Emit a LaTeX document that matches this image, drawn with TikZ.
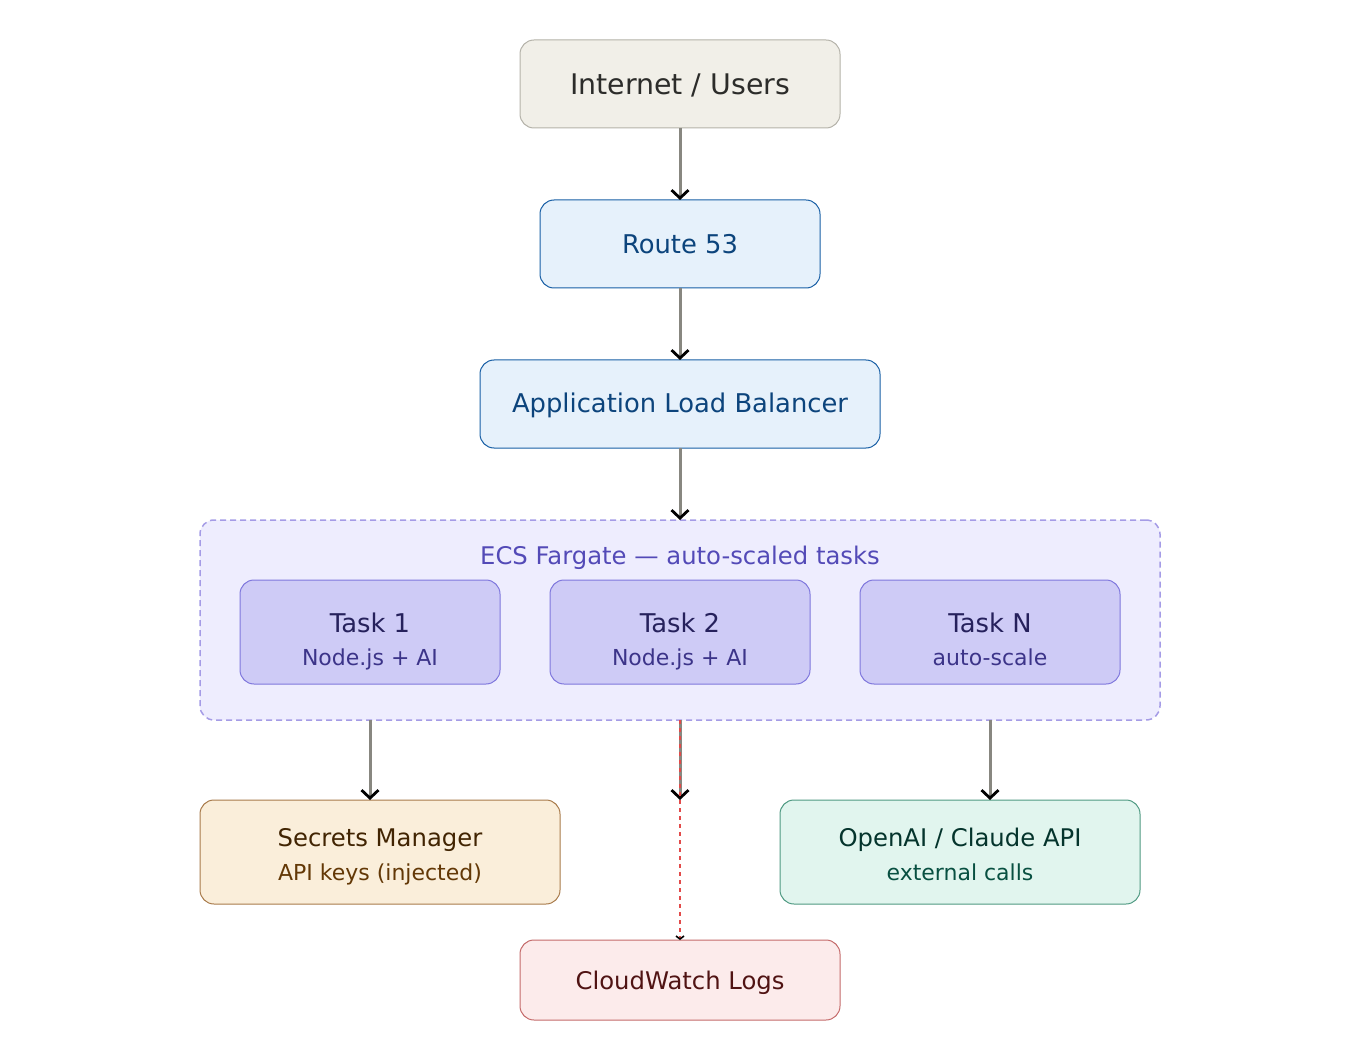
\documentclass[tikz,border=0pt]{standalone}
\usepackage{fontspec}
\setmainfont{DejaVu Sans}
\usepackage{xcolor}
\usetikzlibrary{arrows.meta,positioning,calc}

\definecolor{inetfill}{HTML}{F1EFE8}
\definecolor{inetdraw}{HTML}{B4B2A9}
\definecolor{inettext}{HTML}{2C2C2A}
\definecolor{awsfill}{HTML}{E6F1FB}
\definecolor{awsdraw}{HTML}{185FA5}
\definecolor{awstext}{HTML}{0C447C}
\definecolor{ecsfill}{HTML}{EEEDFE}
\definecolor{ecsdraw}{HTML}{A59CE6}
\definecolor{ecstext}{HTML}{534AB7}
\definecolor{taskfill}{HTML}{CECBF6}
\definecolor{taskdraw}{HTML}{7F77DD}
\definecolor{tasktext}{HTML}{26215C}
\definecolor{tasksub}{HTML}{3C3489}
\definecolor{secfill}{HTML}{FAEEDA}
\definecolor{secdraw}{HTML}{A87A4A}
\definecolor{sectext}{HTML}{412402}
\definecolor{secsub}{HTML}{633806}
\definecolor{aifill}{HTML}{E1F5EE}
\definecolor{aidraw}{HTML}{4F9A82}
\definecolor{aitext}{HTML}{04342C}
\definecolor{aisub}{HTML}{085041}
\definecolor{cwfill}{HTML}{FCEBEB}
\definecolor{cwdraw}{HTML}{C46A6A}
\definecolor{cwtext}{HTML}{501313}
\definecolor{cwline}{HTML}{E24B4A}
\definecolor{flow}{HTML}{888780}

\newcommand{\mainfont}{\fontsize{25.8}{30}\selectfont}
\newcommand{\svcfont}{\fontsize{24.3}{29}\selectfont}
\newcommand{\subfont}{\fontsize{22}{26}\selectfont}
% title line and sub line, with struts so all boxes sit alike
\newcommand{\tasktext}[2]{\rule{0pt}{39pt}#1\\[3pt]{\subfont\color{tasksub}#2\rule[-5.5pt]{0pt}{0pt}}}
\newcommand{\svctext}[3]{\rule{0pt}{29pt}#1\\[5pt]{\subfont\color{#2}#3\rule[-5.5pt]{0pt}{0pt}}}

\begin{document}
\begin{tikzpicture}[x=1pt,y=-1pt,node distance=72pt,
  box/.style={draw,rounded corners=14pt,line width=1pt,align=center,font=\mainfont,inner sep=0pt,outer sep=0pt},
  taskbox/.style={box,fill=taskfill,draw=taskdraw,text=tasktext,minimum width=260pt,minimum height=104pt},
  arr/.style={draw=flow,line width=3pt,-{Straight Barb[length=8pt,width=17pt,line width=2.8pt,color=black]}},
  logarr/.style={draw=cwline,line width=2pt,dash pattern=on 4pt off 4pt,-{Straight Barb[length=3pt,width=8pt,line width=1.6pt,color=black]}}]
\useasboundingbox (0,0) rectangle (1360,1040);

\node[box,fill=inetfill,draw=inetdraw,text=inettext,font=\fontsize{28.4}{32}\selectfont,minimum width=320pt,minimum height=88pt] (inet) at (680,84) {\rule{0pt}{23pt}Internet / Users};
\node[box,fill=awsfill,draw=awsdraw,text=awstext,minimum width=280pt,minimum height=88pt,below=of inet] (route) {Route 53};
\node[box,fill=awsfill,draw=awsdraw,text=awstext,minimum width=400pt,minimum height=88pt,below=of route] (alb) {\rule{0pt}{23pt}Application Load Balancer};

% fargate group
\node[box,fill=ecsfill,draw=ecsdraw,line width=1.5pt,dash pattern=on 6pt off 4pt,minimum width=960pt,minimum height=200pt,below=of alb] (ecs) {};
\node[text=ecstext,font=\fontsize{24.3}{28}\selectfont] (ecslabel) at (680,558) {ECS Fargate — auto-scaled tasks};
\node[taskbox] (task2) at (680,632) {\tasktext{Task 2}{Node.js + AI}};
\node[taskbox,left=50pt of task2] (task1) {\tasktext{Task 1}{Node.js + AI}};
\node[taskbox,right=50pt of task2] (taskn) {\tasktext{Task N}{auto-scale}};

\node[box,fill=secfill,draw=secdraw,text=sectext,font=\svcfont,minimum width=360pt,minimum height=104pt] (secrets) at (380,852) {\svctext{Secrets Manager}{secsub}{API keys (injected)}};
\node[box,fill=aifill,draw=aidraw,text=aitext,font=\svcfont,minimum width=360pt,minimum height=104pt] (openai) at (960,852) {\svctext{OpenAI / Claude API}{aisub}{external calls}};
\node[box,fill=cwfill,draw=cwdraw,text=cwtext,font=\svcfont,minimum width=320pt,minimum height=80pt] (logs) at (680,980) {\rule{0pt}{25pt}CloudWatch Logs};
\coordinate (logsin) at (680,800);

\draw[arr] (inet) -- (route);
\draw[arr] (route) -- (alb);
\draw[arr] (alb) -- (ecs);
\draw[arr] (task1 |- ecs.south) -- (task1 |- secrets.north);
\draw[arr] (taskn |- ecs.south) -- (taskn |- openai.north);
\draw[arr] (ecs.south) -- (logsin);
\draw[logarr] (ecs.south) -- (logs.north);
\end{tikzpicture}
\end{document}
